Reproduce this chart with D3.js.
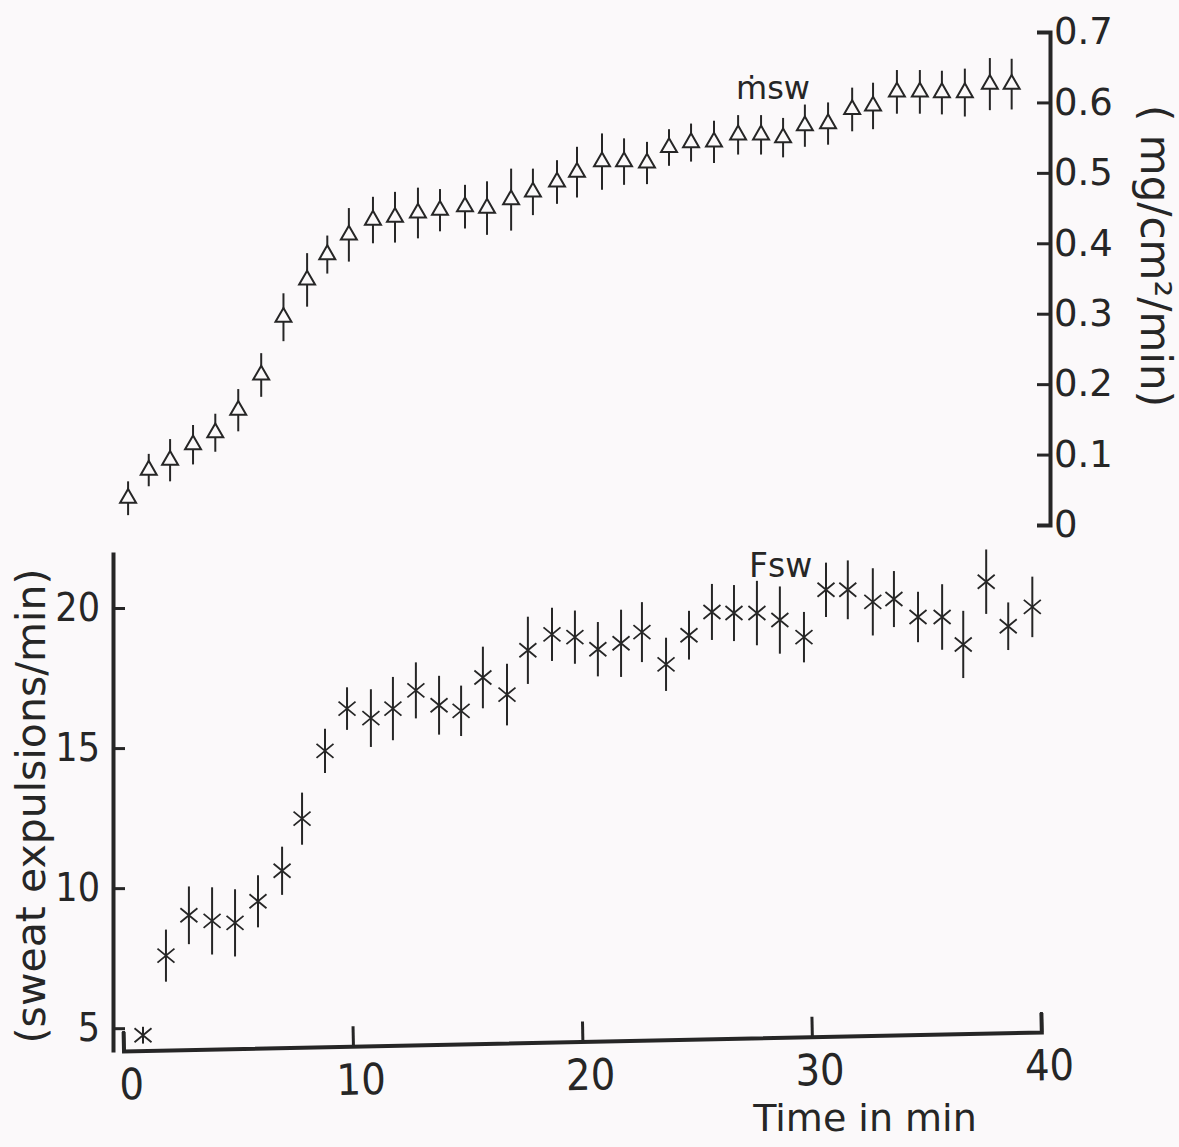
<!DOCTYPE html>
<html><head><meta charset="utf-8">
<script src="https://cdn.jsdelivr.net/npm/d3@7"></script>
<style>
body{margin:0;background:#fbf9fa}
svg{display:block}
</style>
</head><body>
<script>
// ---- data ----
const timeM = [0.2,1.1,2.03,3.03,4.0,5.0,6.0,6.97,8.0,8.88,9.82,10.87,11.83,12.83,13.79,14.88,15.84,16.89,17.84,18.89,19.76,20.85,21.81,22.81,23.77,24.73,25.73,26.78,27.78,28.74,29.69,30.7,31.75,32.66,33.7,34.7,35.66,36.66,37.75,38.7];
const msw = [0.038,0.078,0.092,0.114,0.131,0.163,0.213,0.295,0.348,0.384,0.412,0.433,0.437,0.443,0.447,0.452,0.450,0.462,0.473,0.487,0.501,0.516,0.516,0.514,0.536,0.543,0.544,0.554,0.554,0.550,0.567,0.570,0.590,0.595,0.615,0.615,0.614,0.614,0.626,0.626];
const mswErr = [0.024,0.023,0.030,0.028,0.027,0.030,0.031,0.034,0.038,0.027,0.038,0.033,0.036,0.036,0.030,0.031,0.038,0.044,0.033,0.031,0.036,0.040,0.033,0.030,0.026,0.027,0.030,0.028,0.028,0.028,0.030,0.030,0.031,0.033,0.031,0.031,0.031,0.034,0.037,0.036];

const timeF = [0.85,1.85,2.85,3.86,4.86,5.86,6.91,7.78,8.78,9.74,10.78,11.74,12.74,13.75,14.71,15.66,16.71,17.62,18.67,19.67,20.67,21.68,22.59,23.64,24.64,25.64,26.6,27.6,28.6,29.65,30.61,31.56,32.65,33.57,34.62,35.67,36.59,37.59,38.55,39.6];
const fsw = [4.75,7.59,9.03,8.83,8.76,9.53,10.62,12.48,14.9,16.41,16.07,16.41,17.06,16.53,16.33,17.52,16.91,18.49,19.06,18.96,18.53,18.74,19.14,17.99,19.03,19.86,19.82,19.82,19.57,18.96,20.65,20.65,20.22,20.32,19.68,19.68,18.7,20.94,19.35,20.04];
const fswErr = [0.3,0.93,1.03,1.2,1.2,0.93,0.86,0.93,0.79,0.76,1.03,1.13,1.0,1.05,0.9,1.1,1.1,1.2,0.95,0.95,0.97,1.2,1.07,0.95,0.87,1.0,1.0,1.15,1.2,0.9,0.97,1.05,1.2,1.0,0.9,1.17,1.2,1.15,0.85,1.08];

const xTicks = [0,10,20,30,40];
const leftTicks = [5,10,15,20];
const rightTicks = [0,0.1,0.2,0.3,0.4,0.5,0.6,0.7];

const xLabel = "Time in min";
const leftLabel = "(sweat expulsions/min)";
const rightLabel = "( mg/cm\u00B2/min)";
const mswLabel = "\u1E41sw";
const fswLabel = "Fsw";

// ---- drawing ----
const W = 1179, H = 1147;
const INK = "#262626";
const BG = "#fbf9fa";
const FONT = "DejaVu Sans, Liberation Sans, sans-serif";
const FONT_C = "DejaVu Sans Condensed, DejaVu Sans, sans-serif";

const svg = d3.select("body").append("svg").attr("width", W).attr("height", H);
svg.append("rect").attr("width", W).attr("height", H).attr("fill", BG);

const x = d3.scaleLinear().domain([0, 40]).range([123.5, 1041.5]);
const yF = d3.scaleLinear().domain([4.15, 22]).range([1052, 552]);
const yM = d3.scaleLinear().domain([0, 0.7]).range([525, 32]);

function styleAxis(g, fontSize, family, stretch) {
  g.select(".domain").attr("stroke", INK).attr("stroke-width", 4);
  g.selectAll(".tick line").attr("stroke", INK).attr("stroke-width", 3);
  g.selectAll(".tick text").attr("fill", INK).style("font-family", family)
    .style("font-stretch", stretch).style("font-size", fontSize + "px");
}

// left axis (Fsw)
const gL = svg.append("g").attr("transform", "translate(113,0)")
  .call(d3.axisLeft(yF).tickValues(leftTicks).tickSizeInner(-12).tickSizeOuter(0).tickPadding(13).tickFormat(d3.format("d")));
styleAxis(gL, 39, FONT_C, "condensed");

// right axis (msw)
const gR = svg.append("g").attr("transform", "translate(1050,0)")
  .call(d3.axisRight(yM).tickValues(rightTicks).tickSizeInner(-13).tickSizeOuter(-13).tickPadding(4)
    .tickFormat(d => d === 0 ? "0" : d3.format(".1f")(d)));
styleAxis(gR, 37, FONT, "normal");

// bottom axis (slightly tilted, as drawn in the original)
const gB = svg.append("g").attr("transform", "translate(0,1051) rotate(-1.186,123.5,0)")
  .call(d3.axisBottom(x).tickValues(xTicks).tickSizeInner(-20).tickSizeOuter(-19).tickPadding(18).tickFormat(d3.format("d")));
styleAxis(gB, 43, FONT_C, "condensed");
gB.selectAll(".tick text").attr("dx", 7);

// axis titles
svg.append("text").attr("x", 865).attr("y", 1131).attr("text-anchor", "middle")
  .style("font-family", FONT).style("font-size", "38px").attr("fill", INK).text(xLabel);

svg.append("text").attr("transform", "translate(45,806) rotate(-90)").attr("text-anchor", "middle")
  .style("font-family", FONT).style("font-size", "41px").attr("fill", INK).text(leftLabel);

svg.append("text").attr("transform", "translate(1141,256) rotate(90)").attr("text-anchor", "middle")
  .style("font-family", FONT).style("font-size", "42px").attr("fill", INK).text(rightLabel);

// series labels
svg.append("text").attr("x", 736).attr("y", 99)
  .style("font-family", FONT).style("font-size", "32px").attr("fill", INK).text(mswLabel);
svg.append("text").attr("x", 749).attr("y", 577)
  .style("font-family", FONT).style("font-size", "33px").attr("fill", INK).text(fswLabel);

// msw series: triangles with error bars
const mData = timeM.map((t, i) => ({t, v: msw[i], e: mswErr[i]}));
const gM = svg.append("g");
gM.selectAll("line.err").data(mData).join("line").attr("class", "err")
  .attr("x1", d => x(d.t)).attr("x2", d => x(d.t))
  .attr("y1", d => yM(d.v - d.e)).attr("y2", d => yM(d.v + d.e))
  .attr("stroke", INK).attr("stroke-width", 2);
const tri = d3.symbol().type(d3.symbolTriangle).size(110);
gM.selectAll("path.tri").data(mData).join("path").attr("class", "tri")
  .attr("d", tri)
  .attr("transform", d => `translate(${x(d.t)},${yM(d.v)})`)
  .attr("fill", BG).attr("stroke", INK).attr("stroke-width", 2);

// Fsw series: crosses with error bars
const fData = timeF.map((t, i) => ({t, v: fsw[i], e: fswErr[i]}));
const gF = svg.append("g");
gF.selectAll("line.err").data(fData).join("line").attr("class", "err")
  .attr("x1", d => x(d.t)).attr("x2", d => x(d.t))
  .attr("y1", d => yF(d.v - d.e)).attr("y2", d => yF(d.v + d.e))
  .attr("stroke", INK).attr("stroke-width", 2);
const cross = "M-8.5,-7L8.5,7M-8.5,7L8.5,-7";
gF.selectAll("path.x").data(fData).join("path").attr("class", "x")
  .attr("d", cross)
  .attr("transform", d => `translate(${x(d.t)},${yF(d.v)})`)
  .attr("fill", "none").attr("stroke", INK).attr("stroke-width", 1.8);
</script>
</body></html>
